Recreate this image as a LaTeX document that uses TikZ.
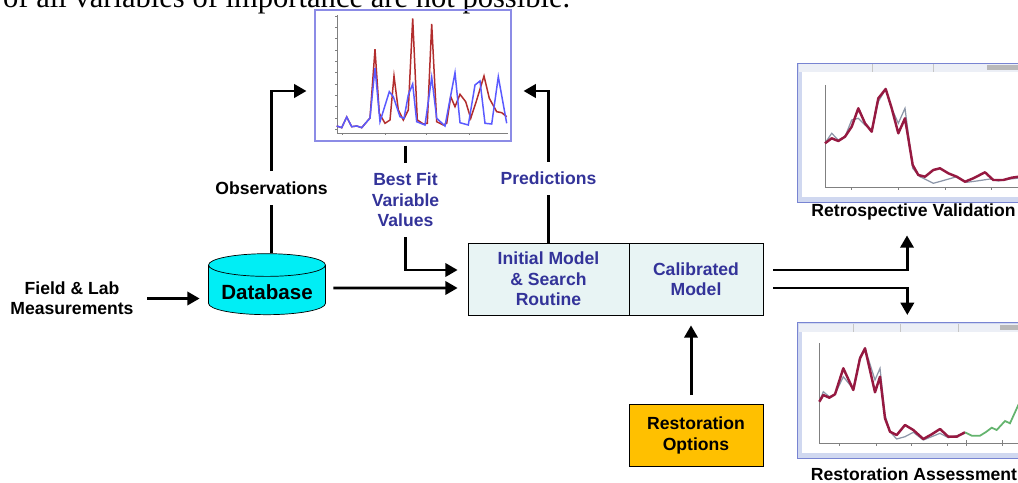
\documentclass[tikz,border=0pt]{standalone}
\usepackage{fontspec}
\setmainfont{Liberation Sans}
\newfontfamily\textserif{Liberation Serif}
\usepackage{tikz}
\usetikzlibrary{positioning,shapes.geometric,arrows.meta}
\definecolor{labelblue}{RGB}{51,51,153}
\definecolor{modelfill}{RGB}{232,244,244}
\definecolor{dbfill}{RGB}{0,238,245}
\definecolor{optfill}{RGB}{255,192,0}
\definecolor{plotframe}{RGB}{140,140,230}
\definecolor{obsred}{RGB}{178,45,45}
\definecolor{simblue}{RGB}{90,90,255}
\definecolor{winframe}{RGB}{208,216,240}
\definecolor{winedge}{RGB}{120,132,210}
\definecolor{titlegray}{RGB}{236,239,246}
\definecolor{runred}{RGB}{150,25,65}
\definecolor{rungray}{RGB}{140,150,168}
\definecolor{rungreen}{RGB}{100,180,110}

\begin{document}
\begin{tikzpicture}[x=0.02cm,y=-0.02cm,
  every node/.style={font=\fontsize{10}{11.6}\selectfont\bfseries, align=center},
  lbl/.style={text=labelblue},
  gap/.style={inner ysep=0.2cm},
  line/.style={line width=1.7pt},
  arr/.style={line width=1.7pt,-{Triangle[length=7pt,width=7.5pt]}},
  modelbox/.style={draw, fill=modelfill, minimum height=1.44cm, text=labelblue},
  win/.style={draw=winedge, fill=winframe, anchor=north west, inner sep=0pt}]
\useasboundingbox (0,0) rectangle (1018,483);

\node[anchor=base west, font=\textserif\fontsize{17.4}{20}\selectfont] (sentence) at (-3,8) {of all variables of importance are not possible.};

% simulated vs observed series
\node[draw=plotframe, line width=0.6pt, minimum width=3.92cm, minimum height=2.62cm, inner sep=0pt] (simplot) at (413,75.5) {};
\draw[gray, line width=0.4pt] (337,15) -- (337,133) -- (508,133);
\draw[gray, line width=0.4pt] (335,16) -- (337,16) (335,27) -- (337,27) (335,38) -- (337,38) (335,50) -- (337,50) (335,61) -- (337,61) (335,72) -- (337,72) (335,84) -- (337,84) (335,95) -- (337,95) (335,106) -- (337,106) (335,118) -- (337,118) (335,129) -- (337,129);
\draw[gray, line width=0.4pt] (342,133) -- (342,135) (385,133) -- (385,135) (426,133) -- (426,135) (469,133) -- (469,135);
\draw[obsred, line width=0.85pt] plot coordinates {(336.7,126) (341.7,127.7) (346.7,117) (351.7,126.7) (356.7,126) (361.7,127.7) (370,118) (375,49.3) (379.3,113.3) (385,123.3) (390,120) (394,76) (398.3,110) (403.3,120) (408.3,110) (412.7,18.3) (417.3,120) (423.3,124) (427.3,123.3) (431.7,24) (436.7,121.7) (443.3,125) (446.7,123.3) (450.7,96.7) (455,106.7) (460,94.3) (465.7,101.7) (470.7,118.3) (476.7,100) (484,76) (489.3,98.3) (496.7,111.7) (501.7,112.7) (506.7,116.7)};
\draw[simblue, line width=0.85pt] plot coordinates {(336.7,126) (341.7,127.7) (346.7,117) (351.7,126.7) (356.7,126) (361.7,127.7) (370,118) (375,68) (380,121.7) (389.3,91.7) (393.3,96.7) (400,116.7) (404,118.3) (408.3,95) (412.7,84) (416.7,121.7) (425,125) (431.7,77.3) (436.7,118.3) (445,126) (455,72.7) (460,122.7) (468.3,125) (475,85) (480,81) (485,123.3) (491.7,124) (498.3,76.7) (506.7,123.3)};

% retrospective validation window
\node[win, minimum width=4.7cm, minimum height=2.78cm] (retrowin) at (797,63) {};
\fill[titlegray] (799,64.5) rectangle (1032,72);
\fill[white] (802,72) rectangle (1032,197);
\fill[gray!55] (987,65.5) rectangle (1032,70.5);
\draw[gray!45] (872,64.5) -- (872,72) (933,64.5) -- (933,72);
\draw[gray, line width=0.4pt] (825,85) -- (825,187.5) -- (1032,187.5);
\draw[gray, line width=0.4pt] (851.7,187.5) -- (851.7,190) (898,187.5) -- (898,190) (945,187.5) -- (945,190) (991.7,187.5) -- (991.7,190);
\draw[rungray, line width=0.7pt] plot coordinates {(825,143.3) (831.7,133.3) (838.3,140) (845,136.7) (851.7,120) (858.3,118.3) (865,125) (871.7,130) (878.3,101.7) (885.7,89) (891.7,108.3) (898.3,123.3) (905,108.3) (912.7,168.3) (920,176.7) (926.7,180) (933.3,183.3) (941.7,181) (956.7,176.7) (966.7,182.3) (976.7,181) (990,179) (998.3,181) (1010,179) (1020,178)};
\draw[runred, line width=1.4pt, line join=round] plot coordinates {(825,143.3) (831.7,138.3) (838.3,141) (845,136.7) (851.7,126.7) (858.3,108.3) (865,123.3) (871.7,131.7) (878.3,98.3) (885.7,89) (891.7,108.3) (898.3,133.3) (905,118.3) (912.7,165) (918.3,175) (925,176.7) (933.3,170) (940,168.3) (948.3,173.3) (956.7,176.7) (965,181.7) (973.3,178.3) (985,172.3) (993.3,180) (1003.3,180) (1011.7,177.7) (1020,176.5)};
\node (retrolbl) at (913.5,212) {Retrospective Validation};

% restoration assessment window
\node[win, minimum width=4.7cm, minimum height=2.72cm] (restwin) at (797,322) {};
\fill[titlegray] (799,323.5) rectangle (1032,331.5);
\fill[white] (802,331.5) rectangle (1032,453);
\fill[gray!55] (1000,325) rectangle (1032,330);
\draw[gray!45] (853,323.5) -- (853,331.5) (900,323.5) -- (900,331.5) (958,323.5) -- (958,331.5);
\draw[gray, line width=0.4pt] (819.3,343) -- (819.3,443) -- (1032,443);
\draw[gray, line width=0.4pt] (839,443) -- (839,445.5) (876,443) -- (876,445.5) (911.7,443) -- (911.7,445.5) (947,443) -- (947,445.5) (966,440) -- (966,445.5) (1002.7,440) -- (1002.7,445.5);
\draw[rungray, line width=0.7pt] plot coordinates {(819.3,401.7) (823.3,391.7) (829.3,396.7) (835,394.3) (843.3,376.7) (853.3,389) (860,356.7) (865,348.3) (875,380) (880,368.3) (885,415) (890,431.7) (896.7,439) (905,436.7) (913.3,432.3) (923.3,440) (931.7,436.7) (940,433.3) (948.3,437.7) (956.7,435.7) (965,433.3)};
\draw[runred, line width=1.4pt, line join=round] plot coordinates {(819.3,401.7) (823.3,395) (829.3,397.7) (835,394.3) (843.3,368.3) (853.3,390) (860,358.3) (865,348.3) (875,392.3) (880,376.7) (885,418.3) (890,431.7) (896.7,435) (905,425) (913.3,430) (923.3,439) (931.7,434.3) (940,429) (948.3,436.7) (956.7,436.7) (965,432.3)};
\draw[rungreen, line width=1pt] plot coordinates {(965,432.3) (971.7,435.7) (980,435.7) (986,432) (991.7,427.7) (996.7,430) (1005,421) (1010,423.3) (1018.3,405) (1024,395)};
\node (restlbl) at (914,474) {Restoration Assessment};

% blocks
\node (meas) at (72,298.5) {Field \& Lab\\Measurements};
\node[cylinder, shape border rotate=90, draw, fill=dbfill, minimum width=2.34cm, minimum height=1.22cm, aspect=0.22, font=\fontsize{11.7}{14}\selectfont\bfseries] (db) at (267,292.5) {Database};
\node[modelbox, minimum width=3.22cm] (init) at (548.5,279) {Initial Model\\\& Search\\Routine};
\node[modelbox, minimum width=2.68cm] (calib) at (696,279) {Calibrated\\Model};
\node[draw, fill=optfill, minimum width=2.68cm, minimum height=1.24cm] (opts) at (696,435.5) {Restoration\\Options};

\node[gap] (obs) at (271.5,188) {Observations};
\node[lbl,gap] (bestfit) at (405.5,200) {Best Fit\\Variable\\Values};
\node[lbl,gap] (pred) at (548.5,178.5) {Predictions};

\draw[arr, shorten <=.15cm, shorten >=.17cm] (meas.east) -- (meas.east -| db.west);
\draw[arr, shorten <=.15cm, shorten >=.2cm] ([yshift=.09cm]db.east) -- ([yshift=-.18cm]init.west);
\draw[line] (db.north -| obs) -- (obs.south);
\draw[arr, shorten >=.16cm] (obs.north) |- ([yshift=-.31cm]simplot.west);
\draw[line, shorten <=.08cm] (bestfit.north |- simplot.south) -- (bestfit.north);
\draw[arr, shorten >=.2cm] (bestfit.south) |- ([yshift=.18cm]init.west);
\draw[line] (pred.south |- init.north) -- (pred.south);
\draw[arr, shorten >=.24cm] (pred.north) |- ([yshift=-.31cm]simplot.east);
\draw[arr, shorten <=.2cm, shorten >=.18cm] ([yshift=.18cm]calib.east) -| ([xshift=-.13cm]retrolbl.south);
\draw[arr, shorten <=.2cm, shorten >=.14cm] ([yshift=-.18cm]calib.east) -| ([xshift=-.15cm]restwin.north);
\draw[arr, shorten <=.18cm, shorten >=.2cm] ([xshift=-.1cm]opts.north) -- ([xshift=-.1cm]calib.south);
\end{tikzpicture}
\end{document}
